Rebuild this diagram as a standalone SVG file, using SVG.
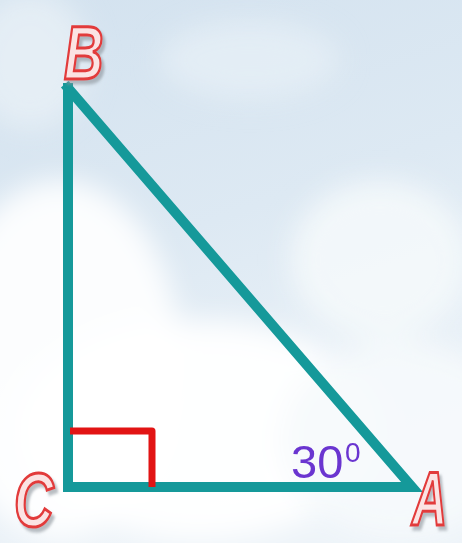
<svg xmlns="http://www.w3.org/2000/svg" width="462" height="543" viewBox="0 0 462 543">
<defs>
<linearGradient id="sky" x1="0" y1="0" x2="0.3" y2="1">
<stop offset="0" stop-color="#d3e2ef"/>
<stop offset="0.5" stop-color="#dde9f3"/>
<stop offset="1" stop-color="#eef4f9"/>
</linearGradient>
<filter id="blur" x="-20%" y="-20%" width="140%" height="140%"><feGaussianBlur stdDeviation="14"/></filter>
<filter id="sh" x="-30%" y="-30%" width="160%" height="160%"><feDropShadow dx="4" dy="4" stdDeviation="1.5" flood-color="#8a929a" flood-opacity="0.6"/></filter>
</defs>
<style>
.edge{stroke:#15999a;stroke-width:10;fill:none;stroke-linecap:square;stroke-linejoin:miter}
.mark{stroke:#e21414;stroke-width:7;fill:none;stroke-linejoin:round}
.lbl{font-family:"Liberation Sans",Arial,sans-serif;font-style:italic;font-weight:bold;font-size:76px;fill:#fbe3e3;stroke:#e23a3a;stroke-width:3}
.ang{font-family:"Liberation Sans",Arial,sans-serif;fill:#6a35d0}
</style>
<rect width="462" height="543" fill="url(#sky)"/>
<g filter="url(#blur)">
<ellipse cx="60" cy="360" rx="120" ry="180" fill="#ffffff" opacity="0.9"/>
<ellipse cx="200" cy="430" rx="180" ry="110" fill="#ffffff" opacity="0.95"/>
<ellipse cx="380" cy="260" rx="90" ry="80" fill="#f4f8fb" opacity="0.9"/>
<ellipse cx="400" cy="440" rx="120" ry="100" fill="#f6f9fc" opacity="0.9"/>
<ellipse cx="250" cy="60" rx="90" ry="40" fill="#e6eff6" opacity="0.8"/>
<ellipse cx="30" cy="60" rx="60" ry="70" fill="#e8f0f6" opacity="0.8"/>
</g>
<g id="connectors">
<polyline class="edge" points="68,88 68,487 412,487 68,88"/>
</g>
<g id="right-angle">
<polyline class="mark" points="70,431 152,431 152,487"/>
</g>
<g id="node-B">
<text class="lbl" x="0" y="0" transform="translate(64,79) scale(0.72,1)" filter="url(#sh)">B</text>
</g>
<g id="node-C">
<text class="lbl" x="0" y="0" transform="translate(14,526) scale(0.72,1)" filter="url(#sh)">C</text>
</g>
<g id="node-A">
<text class="lbl" x="0" y="0" transform="translate(412,525) scale(0.64,1)" filter="url(#sh)">A</text>
</g>
<g id="angle-label">
<text class="ang" x="291" y="478" font-size="47">30</text>
<text class="ang" x="345" y="462" font-size="28">0</text>
</g>
</svg>
